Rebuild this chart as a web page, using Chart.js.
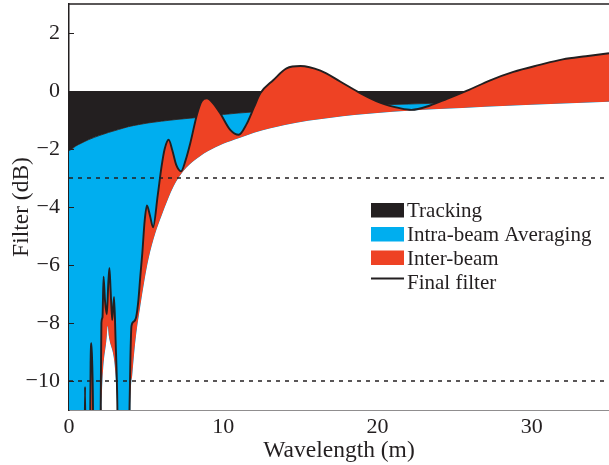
<!DOCTYPE html>
<html>
<head>
<meta charset="utf-8">
<script src="https://cdn.jsdelivr.net/npm/chart.js@4.4.0/dist/chart.umd.min.js"></script>
<style>
    html, body { margin: 0; padding: 0; background: #fff; }
    #wrap { width: 609px; height: 465px; }
</style>
</head>
<body>
<div id="wrap"><canvas id="filterChart" width="609" height="465"></canvas></div>
<script>
// values: wavelength (m) against filter (dB)
var trackWl = [0, 0.2, 0.4, 0.8, 1.26, 2, 2.56, 3.2, 3.85, 4.5, 5.15, 6, 7, 8, 9, 10, 11, 12, 14, 16, 18, 20, 22, 25, 30, 35];
var trackDb = [-2.05, -2.0, -1.91, -1.8, -1.68, -1.53, -1.43, -1.33, -1.23, -1.16, -1.1, -1.04, -0.98, -0.93, -0.87, -0.81, -0.76, -0.72, -0.64, -0.58, -0.53, -0.48, -0.45, -0.4, -0.34, -0.29];

// lower edge of the inter-beam band
var lowerWl = [0, 2.02, 2.12, 2.45, 2.51, 2.58, 3.16, 3.26, 3.94, 3.98, 4.1, 4.25, 4.4, 4.6, 4.9, 5.15, 5.6, 6.0, 6.4, 6.8, 7.26, 7.6, 8.0, 8.5, 9.0, 10, 11, 12, 13, 14, 15.5, 17, 18.5, 20, 22, 24, 27, 30, 35];
var lowerDb = [-14, -14, -11, -8.45, -8.1, -8.45, -11, -14, -14, -11, -9.8, -8.9, -8.2, -7.5, -6.5, -5.8, -4.9, -4.3, -3.75, -3.27, -2.87, -2.65, -2.45, -2.25, -2.08, -1.82, -1.63, -1.44, -1.29, -1.17, -1.03, -0.92, -0.83, -0.76, -0.68, -0.62, -0.54, -0.47, -0.37];

var finalWl = [0, 0.98, 1.04, 1.1, 1.33, 1.4, 1.45, 1.5, 1.55, 1.6, 2.0, 2.06, 2.1, 2.17, 2.24, 2.33, 2.45, 2.55, 2.62, 2.7, 2.8, 2.92, 3.02, 3.12, 3.22,
    3.85, 3.92, 3.98, 4.05, 4.2, 4.35, 4.5, 4.62, 4.75, 4.9, 5.05, 5.25, 5.45, 5.75, 6.0, 6.2, 6.46, 6.7, 6.95, 7.26, 7.55, 7.86,
    8.3, 8.6, 8.94, 9.3, 9.8, 10.45, 11.0, 11.5, 12.0, 12.4, 13.25, 14.1, 15.0, 16.3, 17.6, 18.9, 20.2, 21.5, 22.2, 23.4, 24.5,
    25.8, 27.3, 28.8, 30.5, 32, 33.5, 35];
var finalDb = [-14, -14, -10.2, -14, -14, -9.4, -8.7, -9.3, -10.6, -14, -14, -10.5, -8.0, -7.8, -6.4, -7.2, -7.7, -6.6, -6.1, -6.9, -7.9, -7.1, -8.6, -10.4, -14,
    -14, -11, -9.2, -8.1, -7.95, -7.8, -7.2, -6.4, -5.6, -4.5, -3.95, -4.3, -4.7, -3.6, -2.6, -2.0, -1.68, -2.05, -2.55, -2.77, -2.4, -1.8,
    -0.8, -0.35, -0.25, -0.4, -0.77, -1.34, -1.51, -1.15, -0.55, -0.08, 0.38, 0.78, 0.86, 0.7, 0.32, -0.08, -0.41, -0.6, -0.65, -0.5, -0.27,
    0.01, 0.37, 0.66, 0.9, 1.09, 1.2, 1.3];

var refLevels = [-3, -10];
var xTicks = [0, 10, 20, 30];
var yTicks = [2, 0, -2, -4, -6, -8, -10];
var legendLabels = ['Tracking', 'Intra-beam Averaging', 'Inter-beam', 'Final filter'];

var ink = '#231f20';
var blue = '#00aeef';
var red = '#ee4224';
var serif = "'Liberation Serif', 'Times New Roman', serif";

function pts(xs, ys) {
    return xs.map(function (x, i) { return { x: x, y: ys[i] }; });
}

function refLine(level) {
    return {
        data: [{ x: 0, y: level }, { x: 35, y: level }],
        borderColor: ink,
        borderWidth: 1.3,
        borderDash: [4, 5],
        pointRadius: 0,
        fill: false,
        order: 0
    };
}

// frame on top, inward y ticks and the legend box
var decorations = {
    id: 'decorations',
    afterDatasetsDraw: function (chart) {
        var ctx = chart.ctx;
        var area = chart.chartArea;
        var y = chart.scales.y;
        ctx.save();
        ctx.strokeStyle = ink;
        ctx.lineWidth = 1.5;
        ctx.beginPath();
        ctx.moveTo(area.left, area.top);
        ctx.lineTo(area.right, area.top);
        ctx.stroke();
        ctx.lineWidth = 1;
        yTicks.forEach(function (v) {
            var py = Math.round(y.getPixelForValue(v)) + 0.5;
            ctx.beginPath();
            ctx.moveTo(area.left, py);
            ctx.lineTo(area.left + 5, py);
            ctx.stroke();
        });

        var swatches = [ink, blue, red];
        var tops = [203, 227, 250.5];
        ctx.font = '21px ' + serif;
        ctx.textBaseline = 'alphabetic';
        for (var i = 0; i < 3; i++) {
            ctx.fillStyle = swatches[i];
            ctx.fillRect(371, tops[i], 33, 14.5);
            ctx.fillStyle = ink;
            ctx.fillText(legendLabels[i], 407, tops[i] + 14);
        }
        ctx.lineWidth = 1.8;
        ctx.beginPath();
        ctx.moveTo(371, 278.5);
        ctx.lineTo(404, 278.5);
        ctx.stroke();
        ctx.fillText(legendLabels[3], 407, 289);
        ctx.restore();
    }
};

var chart = new Chart(document.getElementById('filterChart'), {
    type: 'line',
    data: {
        datasets: [
            {
                label: 'Final filter',
                data: pts(finalWl, finalDb),
                borderColor: ink,
                borderWidth: 1.9,
                pointRadius: 0,
                cubicInterpolationMode: 'monotone',
                fill: { target: 1, above: red, below: 'rgba(0,0,0,0)' },
                order: 1
            },
            {
                label: 'Inter-beam lower',
                data: pts(lowerWl, lowerDb),
                borderColor: 'rgba(0,0,0,0)',
                borderWidth: 1,
                backgroundColor: '#ffffff',
                pointRadius: 0,
                cubicInterpolationMode: 'monotone',
                fill: 'start',
                order: 2
            },
            {
                label: 'Tracking',
                data: pts(trackWl, trackDb),
                borderColor: ink,
                borderWidth: 0.8,
                backgroundColor: ink,
                pointRadius: 0,
                cubicInterpolationMode: 'monotone',
                fill: { value: 0 },
                order: 3
            },
            {
                label: 'Intra-beam Averaging',
                data: pts(trackWl, trackDb),
                borderColor: 'rgba(0,0,0,0)',
                borderWidth: 1,
                backgroundColor: blue,
                pointRadius: 0,
                cubicInterpolationMode: 'monotone',
                fill: 'start',
                order: 4
            },
            refLine(refLevels[0]),
            refLine(refLevels[1])
        ]
    },
    options: {
        responsive: false,
        animation: false,
        devicePixelRatio: 1,
        layout: { padding: { top: 4, right: 0, left: 0, bottom: 0 } },
        plugins: {
            legend: { display: false },
            tooltip: { enabled: false }
        },
        scales: {
            x: {
                type: 'linear',
                min: 0,
                max: 35,
                z: 1,
                afterBuildTicks: function (s) { s.ticks = xTicks.map(function (v) { return { value: v }; }); },
                afterFit: function (s) { s.height = 55; s.paddingLeft = 0; s.paddingRight = 0; },
                grid: { display: false, drawTicks: false },
                border: { color: ink, width: 1.5 },
                ticks: { color: ink, padding: 4, font: { family: serif, size: 22 } },
                title: { display: true, text: 'Wavelength (m)', color: ink, padding: { top: 0, bottom: 0 }, font: { family: serif, size: 23.5 } }
            },
            y: {
                type: 'linear',
                min: -11,
                max: 3,
                z: 1,
                afterBuildTicks: function (s) { s.ticks = yTicks.map(function (v) { return { value: v }; }); },
                afterFit: function (s) { s.width = 69; s.paddingTop = 0; s.paddingBottom = 0; },
                grid: { display: false, drawTicks: false },
                border: { color: ink, width: 1.5 },
                ticks: {
                    color: ink,
                    padding: 9,
                    font: { family: serif, size: 22 },
                    callback: function (v) { return String(v).replace('-', '\u2212'); }
                },
                title: { display: true, text: 'Filter (dB)', color: ink, padding: { top: 8, bottom: 0 }, font: { family: serif, size: 23.5 } }
            }
        }
    },
    plugins: [decorations]
});
</script>
</body>
</html>
